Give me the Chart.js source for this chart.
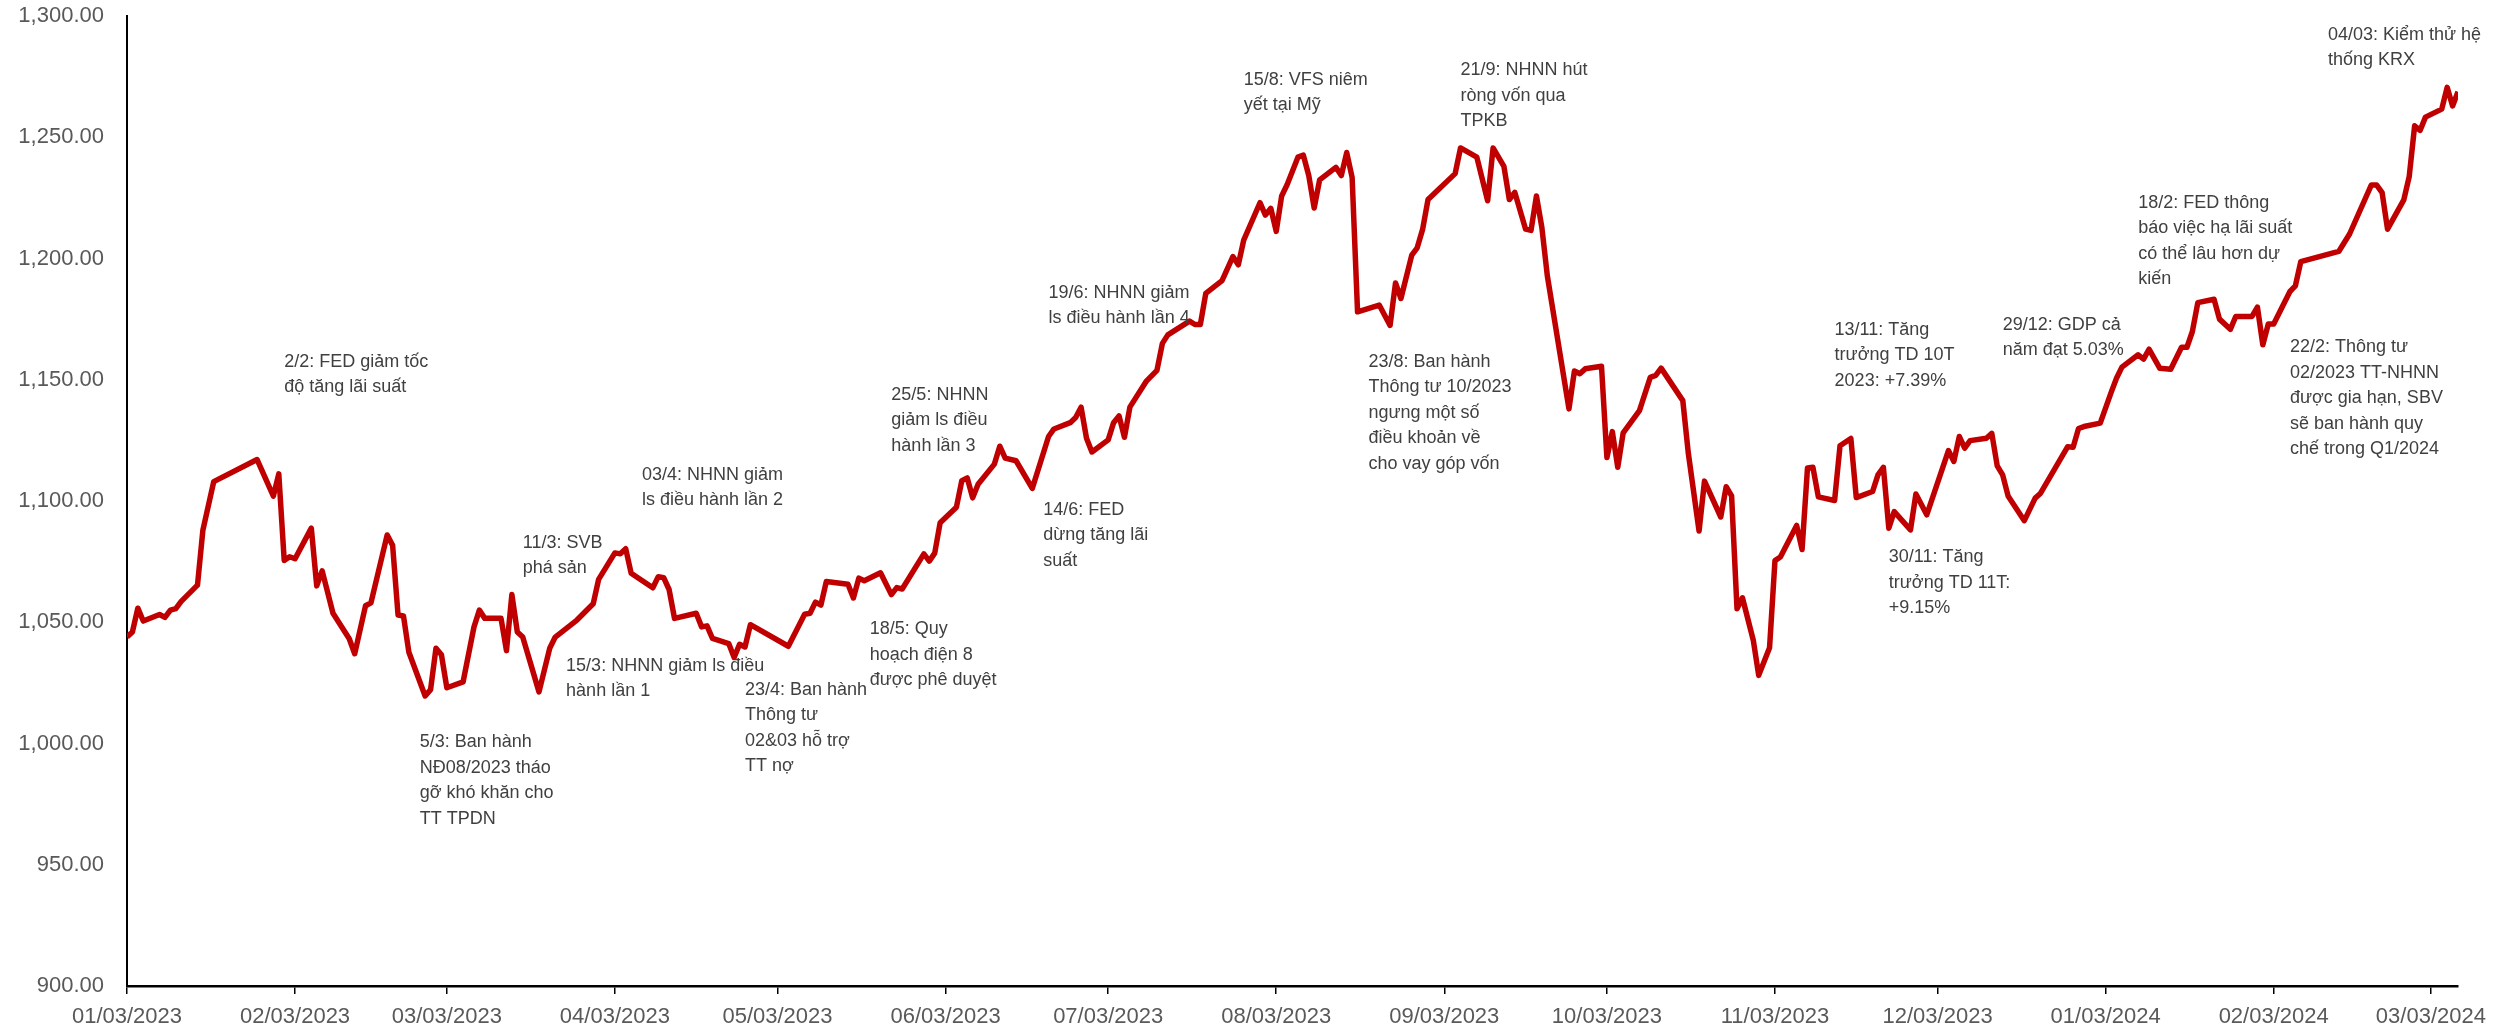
<!DOCTYPE html>
<html lang="vi">
<head>
    <meta charset="UTF-8">
    <title>VN-Index</title>
    <script src="https://cdn.jsdelivr.net/npm/chart.js"></script>
    <style>
        body { margin: 0; background: #fff; }
        .caixa { width: 2498px; height: 1030px; }
    </style>
</head>
<body>
    <div class="caixa">
        <canvas id="myChart" width="2498" height="1030"></canvas>
    </div>
<script>
    // datas e fechamento do indice
    const datas = [
        '2023-01-03','2023-01-04','2023-01-05','2023-01-06','2023-01-09','2023-01-10','2023-01-11','2023-01-12','2023-01-13','2023-01-16','2023-01-17','2023-01-18','2023-01-19','2023-01-27','2023-01-30','2023-01-31',
        '2023-02-01','2023-02-02','2023-02-03','2023-02-06','2023-02-07','2023-02-08','2023-02-10','2023-02-13','2023-02-14','2023-02-16','2023-02-17','2023-02-20','2023-02-21','2023-02-22','2023-02-23','2023-02-24','2023-02-27','2023-02-28',
        '2023-03-01','2023-03-02','2023-03-03','2023-03-06','2023-03-08','2023-03-09','2023-03-10','2023-03-13','2023-03-14','2023-03-15','2023-03-16','2023-03-17','2023-03-20','2023-03-22','2023-03-23','2023-03-27','2023-03-30','2023-03-31',
        '2023-04-03','2023-04-04','2023-04-05','2023-04-06','2023-04-10','2023-04-11','2023-04-12','2023-04-13','2023-04-14','2023-04-18','2023-04-19','2023-04-20','2023-04-21','2023-04-24','2023-04-25','2023-04-26','2023-04-27','2023-04-28',
        '2023-05-05','2023-05-08','2023-05-09','2023-05-10','2023-05-11','2023-05-12','2023-05-16','2023-05-17','2023-05-18','2023-05-19','2023-05-22','2023-05-24','2023-05-25','2023-05-26','2023-05-30','2023-05-31',
        '2023-06-01','2023-06-02','2023-06-05','2023-06-06','2023-06-07','2023-06-08','2023-06-09','2023-06-12','2023-06-13','2023-06-14','2023-06-16','2023-06-19','2023-06-22','2023-06-23','2023-06-26','2023-06-27','2023-06-28','2023-06-29','2023-06-30',
        '2023-07-03','2023-07-04','2023-07-05','2023-07-06','2023-07-07','2023-07-10','2023-07-12','2023-07-13','2023-07-14','2023-07-18','2023-07-19','2023-07-20','2023-07-21','2023-07-24','2023-07-26','2023-07-27','2023-07-28','2023-07-31',
        '2023-08-01','2023-08-02','2023-08-03','2023-08-04','2023-08-05','2023-08-07','2023-08-08','2023-08-09','2023-08-10','2023-08-11','2023-08-14','2023-08-15','2023-08-16','2023-08-17','2023-08-18','2023-08-22','2023-08-24','2023-08-25','2023-08-26','2023-08-28','2023-08-29','2023-08-30','2023-08-31',
        '2023-09-05','2023-09-06','2023-09-09','2023-09-11','2023-09-12','2023-09-14','2023-09-15','2023-09-16','2023-09-18','2023-09-19','2023-09-20','2023-09-21','2023-09-22','2023-09-26','2023-09-27','2023-09-28','2023-09-29',
        '2023-10-02','2023-10-03','2023-10-04','2023-10-05','2023-10-06','2023-10-09','2023-10-11','2023-10-12','2023-10-13','2023-10-17','2023-10-18','2023-10-20','2023-10-21','2023-10-24','2023-10-25','2023-10-26','2023-10-27','2023-10-28','2023-10-30','2023-10-31',
        '2023-11-02','2023-11-03','2023-11-04','2023-11-07','2023-11-08','2023-11-09','2023-11-10','2023-11-11','2023-11-14','2023-11-15','2023-11-17','2023-11-18','2023-11-21','2023-11-22','2023-11-23','2023-11-24','2023-11-25','2023-11-28','2023-11-29',
        '2023-12-01','2023-12-05','2023-12-06','2023-12-07','2023-12-08','2023-12-09','2023-12-12','2023-12-13','2023-12-14','2023-12-15','2023-12-16','2023-12-19','2023-12-21','2023-12-22','2023-12-27','2023-12-28','2023-12-29','2023-12-30',
        '2024-01-02','2024-01-04','2024-01-05','2024-01-06','2024-01-09','2024-01-10','2024-01-11','2024-01-13','2024-01-15','2024-01-17','2024-01-18','2024-01-19','2024-01-20','2024-01-23','2024-01-24','2024-01-26','2024-01-27','2024-01-30','2024-01-31',
        '2024-02-01','2024-02-02','2024-02-03','2024-02-06','2024-02-07','2024-02-08','2024-02-15','2024-02-17','2024-02-21','2024-02-22','2024-02-23','2024-02-24','2024-02-27','2024-02-28','2024-02-29',
        '2024-03-01','2024-03-02','2024-03-05','2024-03-06','2024-03-07','2024-03-08'
    ];

    const vnIndex = [
        1043.9,1046.0,1055.8,1050.5,1053.2,1052.0,1055.0,1055.6,1058.6,1065.3,1088.0,1098.0,1108.0,1117.1,1102.0,1111.2,
        1075.5,1077.0,1076.2,1088.8,1065.0,1071.2,1053.7,1043.2,1037.0,1056.8,1058.0,1086.0,1081.7,1053.0,1052.6,1037.6,1019.6,1022.2,
        1039.3,1036.6,1023.0,1025.4,1048.0,1055.0,1051.6,1051.6,1038.3,1061.4,1046.0,1043.9,1021.3,1039.4,1043.9,1050.9,1057.6,1067.7,
        1078.6,1078.2,1080.3,1070.2,1064.2,1068.8,1068.4,1063.5,1051.6,1053.7,1048.1,1048.5,1043.3,1041.2,1035.5,1040.9,1039.8,1049.0,
        1040.1,1053.3,1053.7,1058.3,1057.1,1066.8,1065.7,1060.0,1068.2,1067.1,1070.4,1061.4,1064.3,1063.7,1078.2,1075.2,
        1078.5,1091.0,1097.4,1108.4,1109.5,1101.3,1106.9,1115.2,1122.6,1117.7,1116.6,1105.2,1126.6,1129.7,1132.3,1134.4,1138.7,1125.9,1120.2,
        1125.2,1132.3,1135.1,1126.3,1138.7,1149.3,1153.9,1165.0,1168.5,1174.2,1172.8,1172.8,1185.6,1190.9,1200.8,1197.4,1207.6,1223.0,
        1217.9,1220.7,1211.2,1225.8,1230.4,1241.8,1242.6,1234.2,1220.8,1232.4,1237.6,1234.2,1243.7,1233.4,1178.0,1180.8,1172.4,1189.9,1183.5,1201.4,1204.4,1212.0,1224.3,
        1235.0,1245.6,1241.8,1223.8,1245.6,1238.0,1224.3,1227.3,1212.1,1211.6,1225.8,1212.8,1193.0,1138.0,1153.6,1152.5,1154.5,
        1155.6,1117.9,1128.6,1113.9,1128.1,1137.3,1151.0,1151.8,1154.8,1141.4,1120.0,1087.6,1108.2,1093.4,1105.9,1102.1,1055.6,1060.1,1042.6,1028.1,
        1039.5,1075.4,1076.9,1089.9,1080.0,1113.6,1113.9,1101.7,1100.2,1122.8,1125.8,1101.4,1103.9,1110.8,1113.9,1088.8,1095.6,1088.1,1102.9,
        1094.3,1120.8,1116.3,1126.6,1121.8,1124.9,1125.9,1127.9,1114.5,1110.8,1102.1,1091.9,1101.2,1103.2,1122.4,1122.2,1129.9,1130.7,
        1132.1,1144.7,1150.6,1155.2,1160.3,1158.5,1162.6,1154.7,1154.3,1163.4,1163.4,1169.9,1181.8,1183.2,1175.0,1170.8,1176.1,1176.1,1179.9,
        1164.4,1173.0,1173.0,1186.4,1188.7,1198.7,1202.9,1210.1,1230.3,1230.3,1227.2,1212.1,1224.2,1233.8,1254.7,
        1252.8,1258.3,1261.6,1270.6,1262.9,1268.8
    ];

    // marcas do eixo x (uma por mes)
    const tickDatas = ['2023-01-03','2023-02-03','2023-03-03','2023-04-03','2023-05-03','2023-06-03','2023-07-03','2023-08-03',
        '2023-09-03','2023-10-03','2023-11-03','2023-12-03','2024-01-03','2024-02-03','2024-03-03'];
    const tickLabels = ['01/03/2023','02/03/2023','03/03/2023','04/03/2023','05/03/2023','06/03/2023','07/03/2023','08/03/2023',
        '09/03/2023','10/03/2023','11/03/2023','12/03/2023','01/03/2024','02/03/2024','03/03/2024'];

    // anotacoes: data e nivel do indice onde comeca o texto
    const notes = [
        { date: '2023-02-01', level: 1157.5, lines: ['2/2: FED giảm tốc', 'độ tăng lãi suất'] },
        { date: '2023-03-17', level: 1082.7, lines: ['11/3: SVB', 'phá sản'] },
        { date: '2023-04-08', level: 1110.8, lines: ['03/4: NHNN giảm', 'ls điều hành lần 2'] },
        { date: '2023-02-26', level: 1000.6, lines: ['5/3: Ban hành', 'NĐ08/2023 tháo', 'gỡ khó khăn cho', 'TT TPDN'] },
        { date: '2023-03-25', level: 1032.0, lines: ['15/3: NHNN giảm ls điều', 'hành lần 1'] },
        { date: '2023-04-27', level: 1022.2, lines: ['23/4: Ban hành', 'Thông tư', '02&03 hỗ trợ', 'TT nợ'] },
        { date: '2023-05-20', level: 1047.2, lines: ['18/5: Quy', 'hoạch điện 8', 'được phê duyệt'] },
        { date: '2023-05-24', level: 1143.7, lines: ['25/5: NHNN', 'giảm ls điều', 'hành lần 3'] },
        { date: '2023-06-21', level: 1096.4, lines: ['14/6: FED', 'dừng tăng lãi', 'suất'] },
        { date: '2023-06-22', level: 1185.8, lines: ['19/6: NHNN giảm', 'ls điều hành lần 4'] },
        { date: '2023-07-28', level: 1273.8, lines: ['15/8: VFS niêm', 'yết tại Mỹ'] },
        { date: '2023-09-06', level: 1277.7, lines: ['21/9: NHNN hút', 'ròng vốn qua', 'TPKB'] },
        { date: '2023-08-20', level: 1157.5, lines: ['23/8: Ban hành', 'Thông tư 10/2023', 'ngưng một số', 'điều khoản về', 'cho vay góp vốn'] },
        { date: '2023-11-14', level: 1170.6, lines: ['13/11: Tăng', 'trưởng TD 10T', '2023: +7.39%'] },
        { date: '2023-11-24', level: 1076.7, lines: ['30/11: Tăng', 'trưởng TD 11T:', '+9.15%'] },
        { date: '2023-12-15', level: 1172.6, lines: ['29/12: GDP cả', 'năm đạt 5.03%'] },
        { date: '2024-01-09', level: 1223.0, lines: ['18/2: FED thông', 'báo việc hạ lãi suất', 'có thể lâu hơn dự', 'kiến'] },
        { date: '2024-02-06', level: 1163.4, lines: ['22/2: Thông tư', '02/2023 TT-NHNN', 'được gia hạn, SBV', 'sẽ ban hành quy', 'chế trong Q1/2024'] },
        { date: '2024-02-13', level: 1292.2, lines: ['04/03: Kiểm thử hệ', 'thống KRX'] }
    ];

    // dias contados a partir da primeira data
    const inicio = Date.parse(datas[0]);
    function dia(d) {
        return Math.round((Date.parse(d) - inicio) / 86400000);
    }
    const tickDias = tickDatas.map(dia);

    Chart.defaults.font.family = '"Liberation Sans", Arial, sans-serif';

    const pluginNotas = {
        id: 'notas',
        afterDatasetsDraw(chart) {
            const ctx = chart.ctx;
            const x = chart.scales.x;
            const y = chart.scales.y;
            ctx.save();
            ctx.font = '18px "Liberation Sans", Arial, sans-serif';
            ctx.fillStyle = '#404040';
            ctx.textBaseline = 'middle';
            ctx.textAlign = 'left';
            notes.forEach(function (n) {
                const px = x.getPixelForValue(dia(n.date));
                const py = y.getPixelForValue(n.level);
                n.lines.forEach(function (t, i) {
                    ctx.fillText(t, px, py + i * 25.5);
                });
            });
            ctx.restore();
        }
    };

    let dados = {
        datasets: [{
            label: 'VN-Index',
            data: datas.map(function (d, i) { return { x: dia(d), y: vnIndex[i] }; }),
            borderColor: '#C00000',
            borderWidth: 5.5,
            pointRadius: 0,
            tension: 0,
            fill: false,
            borderJoinStyle: 'round'
        }]
    };

    const config = {
        type: 'line',
        data: dados,
        options: {
            responsive: false,
            animation: false,
            devicePixelRatio: 1,
            layout: { padding: { top: 16, right: 40, bottom: 0, left: 0 } },
            plugins: { legend: { display: false }, tooltip: { enabled: false } },
            scales: {
                x: {
                    type: 'linear',
                    min: 0,
                    max: dia(datas[datas.length - 1]),
                    afterBuildTicks: function (s) {
                        s.ticks = tickDias.map(function (v) { return { value: v }; });
                    },
                    afterFit: function (s) {
                        s.height = 44;
                        s.paddingLeft = 0;
                        s.paddingRight = 0;
                    },
                    grid: { display: true, drawOnChartArea: false, drawTicks: true, tickLength: 8, color: '#000', lineWidth: 1.5 },
                    border: { display: true, color: '#000', width: 2.5 },
                    ticks: {
                        autoSkip: false,
                        maxRotation: 0,
                        padding: 10,
                        color: '#595959',
                        font: { size: 22 },
                        callback: function (v) { return tickLabels[tickDias.indexOf(v)]; }
                    }
                },
                y: {
                    min: 900,
                    max: 1300,
                    afterFit: function (s) {
                        s.width = 127;
                        s.paddingTop = 0;
                        s.paddingBottom = 0;
                    },
                    grid: { display: false, drawTicks: false },
                    border: { display: true, color: '#000', width: 2 },
                    ticks: {
                        stepSize: 50,
                        padding: 23,
                        color: '#595959',
                        font: { size: 22 },
                        callback: function (v) {
                            return v.toLocaleString('en-US', { minimumFractionDigits: 2, maximumFractionDigits: 2 });
                        }
                    }
                }
            }
        },
        plugins: [pluginNotas]
    };

    let myChart = new Chart(document.getElementById('myChart'), config);
</script>
</body>
</html>
